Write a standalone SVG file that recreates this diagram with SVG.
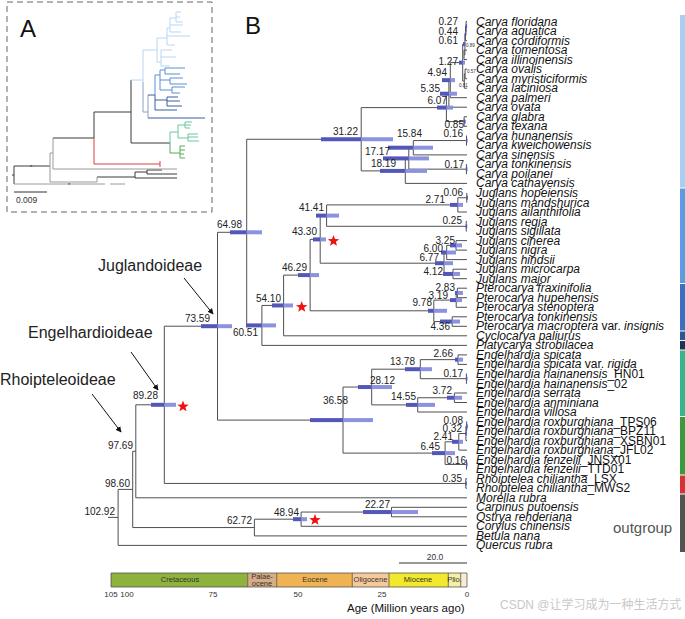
<svg xmlns="http://www.w3.org/2000/svg" width="685" height="619" viewBox="0 0 685 619">
<style>
.br{fill:none;stroke:#505050;stroke-width:1}
.tip{font-family:"Liberation Sans",Arial,sans-serif;font-style:italic;font-size:12px;fill:#111}
.up{font-style:normal}
.nl{font-family:"Liberation Sans",Arial,sans-serif;font-size:10px;fill:#222;text-anchor:end}
.tn{font-family:"Liberation Sans",Arial,sans-serif;font-size:4.5px;fill:#333}
.hd{fill:#5257b8}
.hl{fill:#8c92dd}
.sub{font-family:"Liberation Sans",Arial,sans-serif;font-size:16px;fill:#222}
.pl{font-family:"Liberation Sans",Arial,sans-serif;font-size:24px;fill:#111}
.ep{font-family:"Liberation Sans",Arial,sans-serif;font-size:7.5px;fill:#333;text-anchor:middle}
.ax{font-family:"Liberation Sans",Arial,sans-serif;font-size:8px;fill:#333;text-anchor:middle}
.ia{fill:none;stroke-width:1}
</style>
<defs>
<marker id="ah" viewBox="0 0 8 8" refX="7" refY="4" markerWidth="6" markerHeight="6" orient="auto"><path d="M0,0 L8,4 L0,8 z" fill="#111"/></marker>
<polygon id="star" points="0,-6 1.47,-2.02 5.71,-1.85 2.38,0.77 3.53,4.85 0,2.5 -3.53,4.85 -2.38,0.77 -5.71,-1.85 -1.47,-2.02" fill="#f01010"/>
</defs>

<!-- Panel A -->
<g id="panelA">
<rect x="7" y="2" width="205" height="210" fill="none" stroke="#666" stroke-dasharray="6,4"/>
<text class="pl" x="20" y="37">A</text>
<path class="ia" stroke="#3a3a3a" d="M12,175 H14 M14,166 V184 M14,166 H50 M53,138 H94 V112 H131 M131,80 V143 H170 M97,177 H135 M135,172 V178 H177 M135,172 H147 M147,170 V174 M147,170 H162 M147,174 H177"/>
<path class="ia" stroke="#9a9a9a" d="M50,153 V182 M50,153 H53 M53,138 V169 H177 M50,182 H97 V177 M14,184 H105 M110,184 H125"/>
<text x="30" y="169" font-family="Liberation Sans,sans-serif" font-size="6" fill="#333">*</text>
<text x="68" y="187" font-family="Liberation Sans,sans-serif" font-size="6" fill="#333">*</text>
<path class="ia" stroke="#d9413f" d="M94,138 V164 H160 M160,161 V167"/>
<path class="ia" stroke="#b6d6f2" d="M131,80 H143 M143,50 V82 M143,50 H157 M157,38 V62 M157,38 H167 M167,28 V45 M167,28 H170 M170,18 V32 M170,18 H176 M176,12 V22 M176,12 H181 M176,17 H180 M176,22 H183 M170,25 H183 M170,32 H181 M167,45 H175 M167,36 H190 M157,62 H161 M161,50 V66 M161,50 H172 M161,57 H176 M161,66 H170"/>
<path class="ia" stroke="#8aa0c0" d="M143,82 V112 H148 M148,95 V118"/>
<path class="ia" stroke="#3b5fa0" d="M148,118 H205 M148,95 H155 M155,95 V110 M155,110 H177 M155,100 H167 M167,97 V106 M167,97 H178 M167,101 H180 M167,106 H182"/>
<path class="ia" stroke="#5b8fd6" d="M155,75 V95 M155,75 H160 M160,70 V90 M160,70 H165 M165,68 V74 M165,68 H185 M165,74 H180 M160,80 H170 M170,78 V84 M170,78 H183 M170,84 H187 M160,90 H172 M172,87 V93 M172,87 H185 M172,93 H180"/>
<path class="ia" stroke="#6cc4a0" d="M170,132 V143 M170,132 H178 M178,125 V138 M178,125 H185 M185,122 V128 M185,122 H192 M185,125 H191 M185,128 H190 M178,138 H188 M188,134 V141 M188,134 H198 M188,137 H198 M188,141 H199"/>
<path class="ia" stroke="#5aa85a" d="M170,143 V153 M170,153 H180 M180,146 V158 M180,146 H185 M180,150 H185 M180,154 H184 M180,158 H185"/>
<path class="ia" stroke="#333" d="M14,192 H47"/>
<text x="16" y="203" font-family="Liberation Sans,sans-serif" font-size="8.5" fill="#333">0.009</text>
</g>

<text class="pl" x="245" y="34">B</text>

<!-- connectors -->
<g id="connectors">
<path class="br" d="M467,21.5 H466.1 V31 H467"/>
<path class="br" d="M466.1,26.25 H465.5 V40.6 H467"/>
<path class="br" d="M467,50.1 H464 V59.6 H467"/>
<path class="br" d="M465.5,33.4 H464.9 V54.85 H464"/>
<path class="br" d="M467,69.1 H465.1 V78.7 H467"/>
<path class="br" d="M465.1,73.9 H464.3 V88.2 H467"/>
<path class="br" d="M464.9,44.1 H462.7 V81.05 H464.3"/>
<path class="br" d="M462.7,62.6 H450.3 V97.7 H467"/>
<path class="br" d="M450.3,80.15 H448.9 V107.2 H467"/>
<path class="br" d="M467,116.8 H464.1 V126.3 H467"/>
<path class="br" d="M448.9,93.7 H446.4 V121.55 H464.1"/>
<path class="br" d="M467,135.8 H466.5 V145.3 H467"/>
<path class="br" d="M466.5,140.55 H413.3 V154.9 H467"/>
<path class="br" d="M467,164.4 H466.4 V173.9 H467"/>
<path class="br" d="M413.3,147.7 H408.8 V169.15 H466.4"/>
<path class="br" d="M408.8,158.4 H405.3 V183.4 H467"/>
<path class="br" d="M446.4,107.6 H361.2 V170.9 H405.3"/>
<path class="br" d="M467,193 H466.8 V202.5 H467"/>
<path class="br" d="M466.8,197.75 H457.8 V212 H467"/>
<path class="br" d="M467,221.5 H466.2 V231.1 H467"/>
<path class="br" d="M457.8,204.9 H326.6 V226.3 H466.2"/>
<path class="br" d="M467,240.6 H456 V250.1 H467"/>
<path class="br" d="M456,245.35 H446.7 V259.6 H467"/>
<path class="br" d="M467,269.2 H453 V278.7 H467"/>
<path class="br" d="M446.7,252.5 H444 V273.95 H453"/>
<path class="br" d="M326.6,215.6 H320.2 V263.2 H444"/>
<path class="br" d="M467,288.2 H457.4 V297.7 H467"/>
<path class="br" d="M457.4,292.95 H456.2 V307.3 H467"/>
<path class="br" d="M467,316.8 H452.2 V326.3 H467"/>
<path class="br" d="M456.2,300.1 H433.8 V321.55 H452.2"/>
<path class="br" d="M320.2,239.4 H310.1 V310.8 H433.8"/>
<path class="br" d="M310.1,275.1 H283.6 V335.8 H467"/>
<path class="br" d="M283.6,305.45 H261.9 V345.4 H467"/>
<path class="br" d="M361.2,139.25 H246.7 V325.4 H261.9"/>
<path class="br" d="M467,354.9 H458 V364.4 H467"/>
<path class="br" d="M467,373.9 H466.4 V383.5 H467"/>
<path class="br" d="M458,359.65 H420.3 V378.7 H466.4"/>
<path class="br" d="M467,393 H454.4 V402.5 H467"/>
<path class="br" d="M454.4,397.75 H417.7 V412 H467"/>
<path class="br" d="M420.3,369.2 H371.7 V404.9 H417.7"/>
<path class="br" d="M467,421.6 H466.7 V431.1 H467"/>
<path class="br" d="M466.7,426.35 H465.9 V440.6 H467"/>
<path class="br" d="M465.9,433.5 H458.8 V450.1 H467"/>
<path class="br" d="M467,459.7 H466.5 V469.2 H467"/>
<path class="br" d="M458.8,441.8 H445.1 V464.45 H466.5"/>
<path class="br" d="M371.7,387.05 H343 V453.1 H445.1"/>
<path class="br" d="M246.7,232.3 H217.5 V420.1 H343"/>
<path class="br" d="M467,478.7 H465.8 V488.2 H467"/>
<path class="br" d="M217.5,326.2 H164.3 V483.45 H465.8"/>
<path class="br" d="M164.3,404.8 H135.8 V497.8 H467"/>
<path class="br" d="M467,507.3 H391.5 V516.8 H467"/>
<path class="br" d="M391.5,512.05 H301.1 V526.3 H467"/>
<path class="br" d="M301.1,519.2 H254.4 V535.9 H467"/>
<path class="br" d="M135.8,451.3 H132.7 V527.55 H254.4"/>
<path class="br" d="M132.7,489.4 H118.1 V545.4 H467"/>
<path class="br" d="M108,517.4 H118.1"/>
<line x1="184" y1="278" x2="213" y2="314" stroke="#111" stroke-width="1" marker-end="url(#ah)"/>
<line x1="131" y1="352" x2="158" y2="390" stroke="#111" stroke-width="1" marker-end="url(#ah)"/>
<line x1="92" y1="394" x2="121" y2="432" stroke="#111" stroke-width="1" marker-end="url(#ah)"/>
</g>

<!-- internal nodes: HPD bars and ages -->
<g id="n027"><rect class="hd" x="465.6" y="24.25" width="1.5" height="4"/><text class="nl" x="458" y="25">0.27</text></g>
<g id="n044"><rect class="hd" x="465" y="31.4" width="1.5" height="4"/><text class="nl" x="458" y="35">0.44</text></g>
<g id="n061"><rect class="hd" x="463" y="42.1" width="1.9" height="4"/><rect class="hl" x="464.9" y="42.1" width="1.1" height="4"/><text class="nl" x="458" y="44">0.61</text></g>
<g id="n089"><text class="tn" x="466" y="47">0.89</text></g>
<g id="n127"><rect class="hd" x="459" y="60.6" width="3.7" height="4"/><rect class="hl" x="462.7" y="60.6" width="2.3" height="4"/><text class="nl" x="458" y="65">1.27</text></g>
<g id="n057"><text class="tn" x="467" y="73">0.57</text></g>
<g id="n081"><text class="tn" x="459" y="87">0.81</text></g>
<g id="n494"><rect class="hd" x="442" y="78.15" width="8.3" height="4"/><rect class="hl" x="450.3" y="78.15" width="4.7" height="4"/><text class="nl" x="447" y="76">4.94</text></g>
<g id="n535"><rect class="hd" x="440" y="91.7" width="8.9" height="4"/><rect class="hl" x="448.9" y="91.7" width="8.1" height="4"/><text class="nl" x="440" y="92">5.35</text></g>
<g id="n607"><rect class="hd" x="437" y="105.6" width="9.4" height="4"/><rect class="hl" x="446.4" y="105.6" width="6.6" height="4"/><text class="nl" x="447" y="104">6.07</text></g>
<g id="n085"><rect class="hd" x="463.6" y="119.55" width="2" height="4"/><text class="nl" x="464" y="128">0.85</text></g>
<g id="n016c"><rect class="hd" x="466" y="138.55" width="1.5" height="4"/><text class="nl" x="463" y="137">0.16</text></g>
<g id="n1584"><rect class="hd" x="388" y="145.7" width="25.3" height="4"/><rect class="hl" x="413.3" y="145.7" width="19.7" height="4"/><text class="nl" x="422" y="137">15.84</text></g>
<g id="n017c"><rect class="hd" x="465.9" y="167.15" width="1.5" height="4"/><text class="nl" x="464" y="168">0.17</text></g>
<g id="n1717"><rect class="hd" x="383" y="156.4" width="25.8" height="4"/><rect class="hl" x="408.8" y="156.4" width="20.2" height="4"/><text class="nl" x="390" y="155">17.17</text></g>
<g id="n1819"><rect class="hd" x="380" y="168.9" width="25.3" height="4"/><rect class="hl" x="405.3" y="168.9" width="21.7" height="4"/><text class="nl" x="396" y="167">18.19</text></g>
<g id="n3122"><rect class="hd" x="321" y="137.25" width="40.2" height="4"/><rect class="hl" x="361.2" y="137.25" width="31.8" height="4"/><text class="nl" x="358" y="135">31.22</text></g>
<g id="n006"><rect class="hd" x="466.3" y="195.75" width="1.5" height="4"/><text class="nl" x="463" y="196">0.06</text></g>
<g id="n271"><rect class="hd" x="450" y="202.9" width="7.8" height="4"/><rect class="hl" x="457.8" y="202.9" width="5.2" height="4"/><text class="nl" x="445" y="203">2.71</text></g>
<g id="n025"><rect class="hd" x="465.7" y="224.3" width="1.5" height="4"/><text class="nl" x="462" y="224">0.25</text></g>
<g id="n4141"><rect class="hd" x="316" y="213.6" width="10.6" height="4"/><rect class="hl" x="326.6" y="213.6" width="12.4" height="4"/><text class="nl" x="324" y="211">41.41</text></g>
<g id="n325"><rect class="hd" x="450" y="243.35" width="6" height="4"/><rect class="hl" x="456" y="243.35" width="6" height="4"/><text class="nl" x="455" y="244">3.25</text></g>
<g id="n600"><rect class="hd" x="441" y="250.5" width="5.7" height="4"/><rect class="hl" x="446.7" y="250.5" width="9.3" height="4"/><text class="nl" x="443" y="252">6.00</text></g>
<g id="n677"><rect class="hd" x="435" y="261.2" width="9" height="4"/><rect class="hl" x="444" y="261.2" width="9" height="4"/><text class="nl" x="439" y="261">6.77</text></g>
<g id="n412"><rect class="hd" x="443" y="271.95" width="10" height="4"/><rect class="hl" x="453" y="271.95" width="7" height="4"/><text class="nl" x="443" y="275">4.12</text></g>
<g id="n4330"><rect class="hd" x="313" y="237.4" width="7.2" height="4"/><rect class="hl" x="320.2" y="237.4" width="5.8" height="4"/><text class="nl" x="317" y="235">43.30</text><use href="#star" x="333.5" y="241"/></g>
<g id="n283"><rect class="hd" x="455" y="290.95" width="2.4" height="4"/><rect class="hl" x="457.4" y="290.95" width="5.6" height="4"/><text class="nl" x="455" y="291">2.83</text></g>
<g id="n319"><rect class="hd" x="450" y="298.1" width="6.2" height="4"/><rect class="hl" x="456.2" y="298.1" width="5.8" height="4"/><text class="nl" x="448" y="299">3.19</text></g>
<g id="n436"><rect class="hd" x="440" y="319.55" width="12.2" height="4"/><rect class="hl" x="452.2" y="319.55" width="7.8" height="4"/><text class="nl" x="450" y="330">4.36</text></g>
<g id="n978"><rect class="hd" x="428" y="308.8" width="5.8" height="4"/><rect class="hl" x="433.8" y="308.8" width="13.2" height="4"/><text class="nl" x="432" y="306">9.78</text></g>
<g id="n4629"><rect class="hd" x="298" y="273.1" width="12.1" height="4"/><rect class="hl" x="310.1" y="273.1" width="8.9" height="4"/><text class="nl" x="307" y="271">46.29</text></g>
<g id="n5410"><rect class="hd" x="272" y="303.45" width="11.6" height="4"/><rect class="hl" x="283.6" y="303.45" width="9.4" height="4"/><text class="nl" x="281" y="302">54.10</text><use href="#star" x="301.7" y="307"/></g>
<g id="n6051"><rect class="hd" x="246" y="323.4" width="15.9" height="4"/><rect class="hl" x="261.9" y="323.4" width="14.1" height="4"/><text class="nl" x="258" y="336">60.51</text></g>
<g id="n6498"><rect class="hd" x="230" y="230.3" width="16.7" height="4"/><rect class="hl" x="246.7" y="230.3" width="15.3" height="4"/><text class="nl" x="242" y="228">64.98</text></g>
<g id="n7359"><rect class="hd" x="201" y="324.2" width="16.5" height="4"/><rect class="hl" x="217.5" y="324.2" width="14.5" height="4"/><text class="nl" x="210" y="322">73.59</text></g>
<g id="n266"><rect class="hd" x="455" y="357.65" width="3" height="4"/><rect class="hl" x="458" y="357.65" width="5" height="4"/><text class="nl" x="453" y="357">2.66</text></g>
<g id="n017e"><rect class="hd" x="465.9" y="376.7" width="1.5" height="4"/><text class="nl" x="463" y="377">0.17</text></g>
<g id="n1378"><rect class="hd" x="405" y="367.2" width="15.3" height="4"/><rect class="hl" x="420.3" y="367.2" width="11.7" height="4"/><text class="nl" x="415" y="365">13.78</text></g>
<g id="n372"><rect class="hd" x="447" y="395.75" width="7.4" height="4"/><rect class="hl" x="454.4" y="395.75" width="7.6" height="4"/><text class="nl" x="452" y="394">3.72</text></g>
<g id="n1455"><rect class="hd" x="406" y="402.9" width="11.7" height="4"/><rect class="hl" x="417.7" y="402.9" width="17.3" height="4"/><text class="nl" x="416" y="400">14.55</text></g>
<g id="n2812"><rect class="hd" x="358" y="385.05" width="13.7" height="4"/><rect class="hl" x="371.7" y="385.05" width="20.3" height="4"/><text class="nl" x="395" y="384">28.12</text></g>
<g id="n008"><rect class="hd" x="466.2" y="424.35" width="1.5" height="4"/><text class="nl" x="463" y="424">0.08</text></g>
<g id="n032"><rect class="hd" x="465.4" y="431.5" width="1.5" height="4"/><text class="nl" x="462" y="432">0.32</text></g>
<g id="n241"><rect class="hd" x="452" y="439.8" width="6.8" height="4"/><rect class="hl" x="458.8" y="439.8" width="4.2" height="4"/><text class="nl" x="453" y="440">2.41</text></g>
<g id="n016e"><rect class="hd" x="466" y="462.45" width="1.5" height="4"/><text class="nl" x="466" y="464">0.16</text></g>
<g id="n645"><rect class="hd" x="432" y="451.1" width="13.1" height="4"/><rect class="hl" x="445.1" y="451.1" width="9.9" height="4"/><text class="nl" x="440" y="450">6.45</text></g>
<g id="n3658"><rect class="hd" x="310" y="418.1" width="33" height="4"/><rect class="hl" x="343" y="418.1" width="30" height="4"/><text class="nl" x="348" y="404">36.58</text></g>
<g id="n035"><rect class="hd" x="465.3" y="481.45" width="1.5" height="4"/><text class="nl" x="462" y="482">0.35</text></g>
<g id="n8928"><rect class="hd" x="151" y="402.8" width="13.3" height="4"/><rect class="hl" x="164.3" y="402.8" width="11.7" height="4"/><text class="nl" x="158" y="399">89.28</text><use href="#star" x="183" y="406.5"/></g>
<g id="n9769"><text class="nl" x="133" y="449">97.69</text></g>
<g id="n2227"><rect class="hd" x="363" y="510.05" width="28.5" height="4"/><rect class="hl" x="391.5" y="510.05" width="26.5" height="4"/><text class="nl" x="390" y="508">22.27</text></g>
<g id="n4894"><rect class="hd" x="293" y="517.2" width="8.1" height="4"/><rect class="hl" x="301.1" y="517.2" width="5.9" height="4"/><text class="nl" x="299" y="516">48.94</text><use href="#star" x="315" y="520"/></g>
<g id="n6272"><text class="nl" x="252" y="524">62.72</text></g>
<g id="n9860"><text class="nl" x="130" y="487">98.60</text></g>
<g id="n10292"><text class="nl" x="115" y="515">102.92</text></g>

<!-- subfamily labels -->
<g id="lab-jug"><text class="sub" x="98" y="271">Juglandoideae</text></g>
<g id="lab-eng"><text class="sub" x="28" y="338">Engelhardioideae</text></g>
<g id="lab-rho"><text class="sub" x="0" y="385">Rhoipteleoideae</text></g>

<!-- tips -->
<g id="tips">
<g id="t1"><text class="tip" x="476" y="25.5">Carya floridana</text></g>
<g id="t2"><text class="tip" x="476" y="35">Carya aquatica</text></g>
<g id="t3"><text class="tip" x="476" y="44.6">Carya cordiformis</text></g>
<g id="t4"><text class="tip" x="476" y="54.1">Carya tomentosa</text></g>
<g id="t5"><text class="tip" x="476" y="63.6">Carya illinoinensis</text></g>
<g id="t6"><text class="tip" x="476" y="73.1">Carya ovalis</text></g>
<g id="t7"><text class="tip" x="476" y="82.7">Carya myristiciformis</text></g>
<g id="t8"><text class="tip" x="476" y="92.2">Carya laciniosa</text></g>
<g id="t9"><text class="tip" x="476" y="101.7">Carya palmeri</text></g>
<g id="t10"><text class="tip" x="476" y="111.2">Carya ovata</text></g>
<g id="t11"><text class="tip" x="476" y="120.8">Carya glabra</text></g>
<g id="t12"><text class="tip" x="476" y="130.3">Carya texana</text></g>
<g id="t13"><text class="tip" x="476" y="139.8">Carya hunanensis</text></g>
<g id="t14"><text class="tip" x="476" y="149.3">Carya kweichowensis</text></g>
<g id="t15"><text class="tip" x="476" y="158.9">Carya sinensis</text></g>
<g id="t16"><text class="tip" x="476" y="168.4">Carya tonkinensis</text></g>
<g id="t17"><text class="tip" x="476" y="177.9">Carya poilanei</text></g>
<g id="t18"><text class="tip" x="476" y="187.4">Carya cathayensis</text></g>
<g id="t19"><text class="tip" x="476" y="197">Juglans hopeiensis</text></g>
<g id="t20"><text class="tip" x="476" y="206.5">Juglans mandshurica</text></g>
<g id="t21"><text class="tip" x="476" y="216">Juglans ailanthifolia</text></g>
<g id="t22"><text class="tip" x="476" y="225.5">Juglans regia</text></g>
<g id="t23"><text class="tip" x="476" y="235.1">Juglans sigillata</text></g>
<g id="t24"><text class="tip" x="476" y="244.6">Juglans cinerea</text></g>
<g id="t25"><text class="tip" x="476" y="254.1">Juglans nigra</text></g>
<g id="t26"><text class="tip" x="476" y="263.6">Juglans hindsii</text></g>
<g id="t27"><text class="tip" x="476" y="273.2">Juglans microcarpa</text></g>
<g id="t28"><text class="tip" x="476" y="282.7">Juglans major</text></g>
<g id="t29"><text class="tip" x="476" y="292.2">Pterocarya fraxinifolia</text></g>
<g id="t30"><text class="tip" x="476" y="301.7">Pterocarya hupehensis</text></g>
<g id="t31"><text class="tip" x="476" y="311.3">Pterocarya stenoptera</text></g>
<g id="t32"><text class="tip" x="476" y="320.8">Pterocarya tonkinensis</text></g>
<g id="t33"><text class="tip" x="476" y="330.3">Pterocarya macroptera <tspan class="up">var.</tspan> insignis</text></g>
<g id="t34"><text class="tip" x="476" y="339.8">Cyclocarya paliurus</text></g>
<g id="t35"><text class="tip" x="476" y="349.4">Platycarya strobilacea</text></g>
<g id="t36"><text class="tip" x="476" y="358.9">Engelhardia spicata</text></g>
<g id="t37"><text class="tip" x="476" y="368.4">Engelhardia spicata <tspan class="up">var.</tspan> rigida</text></g>
<g id="t38"><text class="tip" x="476" y="377.9">Engelhardia hainanensis<tspan class="up">_HN01</tspan></text></g>
<g id="t39"><text class="tip" x="476" y="387.5">Engelhardia hainanensis<tspan class="up">_02</tspan></text></g>
<g id="t40"><text class="tip" x="476" y="397">Engelhardia serrata</text></g>
<g id="t41"><text class="tip" x="476" y="406.5">Engelhardia anminiana</text></g>
<g id="t42"><text class="tip" x="476" y="416">Engelhardia villosa</text></g>
<g id="t43"><text class="tip" x="476" y="425.6">Engelhardia roxburghiana<tspan class="up">_TPS06</tspan></text></g>
<g id="t44"><text class="tip" x="476" y="435.1">Engelhardia roxburghiana<tspan class="up">_BPZ11</tspan></text></g>
<g id="t45"><text class="tip" x="476" y="444.6">Engelhardia roxburghiana<tspan class="up">_XSBN01</tspan></text></g>
<g id="t46"><text class="tip" x="476" y="454.1">Engelhardia roxburghiana<tspan class="up">_JFL02</tspan></text></g>
<g id="t47"><text class="tip" x="476" y="463.7">Engelhardia fenzelii<tspan class="up">_JNSX01</tspan></text></g>
<g id="t48"><text class="tip" x="476" y="473.2">Engelhardia fenzelii<tspan class="up">_TTD01</tspan></text></g>
<g id="t49"><text class="tip" x="476" y="482.7">Rhoiptelea chiliantha<tspan class="up">_LSX</tspan></text></g>
<g id="t50"><text class="tip" x="476" y="492.2">Rhoiptelea chiliantha<tspan class="up">_MWS2</tspan></text></g>
<g id="t51"><text class="tip" x="476" y="501.8">Morella rubra</text></g>
<g id="t52"><text class="tip" x="476" y="511.3">Carpinus putoensis</text></g>
<g id="t53"><text class="tip" x="476" y="520.8">Ostrya rehderiana</text></g>
<g id="t54"><text class="tip" x="476" y="530.3">Corylus chinensis</text></g>
<g id="t55"><text class="tip" x="476" y="539.9">Betula nana</text></g>
<g id="t56"><text class="tip" x="476" y="549.4">Quercus rubra</text></g>
</g>

<!-- clade colour bar -->
<g id="cladebar">
<rect x="680" y="15" width="5" height="172.5" fill="#a8cff3"/>
<rect x="680" y="188.5" width="5" height="94.5" fill="#5b9de0"/>
<rect x="680" y="284" width="5" height="46.5" fill="#3b6fc2"/>
<rect x="680" y="331.5" width="5" height="8.5" fill="#2a5596"/>
<rect x="680" y="341" width="5" height="8.5" fill="#1c3358"/>
<rect x="680" y="350.5" width="5" height="65.5" fill="#3cb48a"/>
<rect x="680" y="417" width="5" height="57.5" fill="#3a9a3c"/>
<rect x="680" y="475.5" width="5" height="18" fill="#d63434"/>
<rect x="680" y="494.5" width="5" height="57.5" fill="#505550"/>
<text x="613" y="533" font-family="Liberation Sans,Arial,sans-serif" font-size="15" fill="#555">outgroup</text>
</g>

<!-- scale bar -->
<g id="scalebar">
<line x1="399" y1="563" x2="467" y2="563" stroke="#333" stroke-width="1"/>
<text x="435" y="560" font-family="Liberation Sans,Arial,sans-serif" font-size="8.5" fill="#333" text-anchor="middle">20.0</text>
</g>

<!-- time scale -->
<g id="timescale">
<rect x="111" y="573" width="136.7" height="14" fill="#8fb23c"/>
<rect x="247.7" y="573" width="29" height="14" fill="#d9ad84"/>
<rect x="276.7" y="573" width="75.6" height="14" fill="#f0b353"/>
<rect x="352.3" y="573" width="36.7" height="14" fill="#f6c99a"/>
<rect x="389" y="573" width="59.3" height="14" fill="#f2e82c"/>
<rect x="448.3" y="573" width="12.4" height="14" fill="#f4efa2"/>
<rect x="460.7" y="573" width="6.3" height="14" fill="#f8edd2"/>
<path d="M111,573 H467 V587 H111 Z M247.7,573 V587 M276.7,573 V587 M352.3,573 V587 M389,573 V587 M448.3,573 V587 M460.7,573 V587" fill="none" stroke="#444" stroke-width="0.7"/>
<text class="ep" x="180" y="582">Cretaceous</text>
<text class="ep" x="262" y="578.5" font-size="7">Palae-</text>
<text class="ep" x="262" y="585.5" font-size="7">ocene</text>
<text class="ep" x="315" y="582">Eocene</text>
<text class="ep" x="370.5" y="582">Oligocene</text>
<text class="ep" x="418" y="582">Miocene</text>
<text class="ep" x="454.5" y="582">Plio.</text>
<text class="ax" x="111" y="597">105</text>
<text class="ax" x="127" y="597">100</text>
<text class="ax" x="213" y="597">75</text>
<text class="ax" x="298" y="597">50</text>
<text class="ax" x="382" y="597">25</text>
<text class="ax" x="467" y="597">0</text>
<text x="347" y="612" font-family="Liberation Sans,Arial,sans-serif" font-size="11.5" fill="#111">Age (Million years ago)</text>
</g>

<text x="500" y="609" font-family="Liberation Sans,'Noto Sans CJK SC',sans-serif" font-size="12" fill="#c8c8c8">CSDN @让学习成为一种生活方式</text>
</svg>
